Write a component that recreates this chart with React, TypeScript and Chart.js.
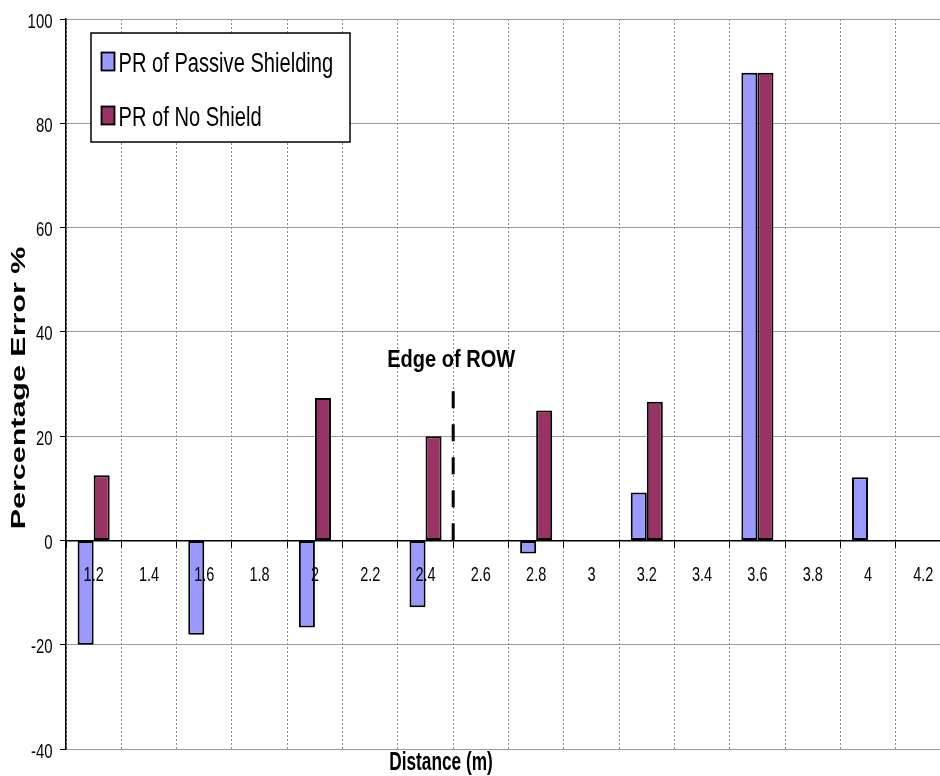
import React, { useEffect, useRef } from "react";
import { Chart, registerables } from "chart.js";

Chart.register(...registerables);

// ---- data ----
const categories = ["1.2", "1.4", "1.6", "1.8", "2", "2.2", "2.4", "2.6", "2.8", "3", "3.2", "3.4", "3.6", "3.8", "4", "4.2"];
const passiveShielding: (number | null)[] = [-20, null, -18.1, null, -16.7, null, -12.8, null, -2.5, null, 9.2, null, 89.7, null, 12.1, null];
const noShield: (number | null)[] = [12.5, null, null, null, 27.3, null, 20, null, 24.9, null, 26.6, null, 89.7, null, null, null];
const seriesLabels = ["PR of Passive Shielding", "PR of No Shield"];
const seriesColors = ["#9999FF", "#993366"];
const yMin = -40;
const yMax = 100;
const yStep = 20;
const xTitle = "Distance (m)";
const yTitle = "Percentage Error %";
const edgeLabel = "Edge of ROW";
const edgeAfterCategory = "2.4"; // edge line sits between 2.4 and 2.6
const edgeLineTopValue = 28.6;
const edgeLabelValue = 33.3;

const SANS = "'Liberation Sans', Arial, sans-serif";

function drawText(
  ctx: CanvasRenderingContext2D,
  text: string,
  x: number,
  y: number,
  size: number,
  bold: boolean,
  sx: number,
  align: CanvasTextAlign
) {
  ctx.save();
  ctx.translate(x, y);
  ctx.scale(sx, 1);
  ctx.font = `${bold ? "bold " : ""}${size}px ${SANS}`;
  ctx.fillStyle = "#000";
  ctx.textAlign = align;
  ctx.textBaseline = "alphabetic";
  ctx.fillText(text, 0, 0);
  ctx.restore();
}

const overlayPlugin = {
  id: "overlay",
  afterDatasetsDraw(chart: any) {
    const { ctx, chartArea, scales } = chart;
    const x = scales.x;
    const y = scales.y;
    const y0 = y.getPixelForValue(0);
    ctx.save();

    // x tick labels (drawn over the bars, just below the zero line)
    categories.forEach((c, i) => {
      drawText(ctx, c, x.getPixelForTick(i), y0 + 40.7, 21, false, 0.69, "center");
    });

    // y tick labels
    y.ticks.forEach((t: any) => {
      drawText(ctx, String(t.value), chartArea.left - 13.5, y.getPixelForValue(t.value) + 8.5, 21, false, 0.71, "right");
    });

    // Edge of ROW dashed line
    const i = categories.indexOf(edgeAfterCategory);
    const ex = (x.getPixelForValue(i) + x.getPixelForValue(i + 1)) / 2;
    ctx.beginPath();
    ctx.setLineDash([17, 16]);
    ctx.lineWidth = 3;
    ctx.strokeStyle = "#000";
    ctx.moveTo(ex, y.getPixelForValue(edgeLineTopValue));
    ctx.lineTo(ex, y0);
    ctx.stroke();
    ctx.setLineDash([]);

    drawText(ctx, edgeLabel, ex - 2, y.getPixelForValue(edgeLabelValue), 24, true, 0.835, "center");

    // Legend box
    const lx = chartArea.left + 25;
    const ly = chartArea.top + 14;
    const lw = 259;
    const lh = 109;
    ctx.fillStyle = "#fff";
    ctx.fillRect(lx, ly, lw, lh);
    ctx.lineWidth = 1.5;
    ctx.strokeStyle = "#000";
    ctx.strokeRect(lx, ly, lw, lh);
    chart.data.datasets.forEach((ds: any, k: number) => {
      const cy = ly + 28.5 + k * 54;
      ctx.fillStyle = ds.backgroundColor;
      ctx.fillRect(lx + 10.5, cy - 9, 13, 18);
      ctx.strokeStyle = "#000";
      ctx.lineWidth = 1.8;
      ctx.strokeRect(lx + 10.5, cy - 9, 13, 18);
      drawText(ctx, ds.label, lx + 27.5, cy + 10, 27, false, 0.745, "left");
    });

    // X title
    drawText(ctx, xTitle, chartArea.left + 375, chartArea.bottom + 21, 25, true, 0.69, "center");

    // Y title (stretched along its length)
    ctx.save();
    ctx.translate(19, (chartArea.top + chartArea.bottom) / 2 + 4);
    ctx.rotate(-Math.PI / 2);
    ctx.scale(1.45, 1);
    ctx.font = `bold 21px ${SANS}`;
    ctx.fillStyle = "#000";
    ctx.textAlign = "center";
    ctx.textBaseline = "middle";
    ctx.fillText(yTitle, 0, 0);
    ctx.restore();

    ctx.restore();
  },
};

export default function App() {
  const canvasRef = useRef<HTMLCanvasElement | null>(null);

  useEffect(() => {
    if (!canvasRef.current) return;
    const chart = new Chart(canvasRef.current, {
      type: "bar",
      data: {
        labels: categories,
        datasets: [
          {
            label: seriesLabels[0],
            data: passiveShielding,
            backgroundColor: seriesColors[0],
            borderColor: "#000",
            borderWidth: 2,
            borderSkipped: false,
            categoryPercentage: 0.58,
            barPercentage: 1,
          },
          {
            label: seriesLabels[1],
            data: noShield,
            backgroundColor: seriesColors[1],
            borderColor: "#000",
            borderWidth: 2,
            borderSkipped: false,
            categoryPercentage: 0.58,
            barPercentage: 1,
          },
        ],
      },
      options: {
        animation: false,
        responsive: false,
        devicePixelRatio: 1,
        layout: { padding: { left: 0, top: 19, right: 9, bottom: 27 } },
        plugins: {
          legend: { display: false },
          tooltip: { enabled: false },
          title: { display: false },
        },
        scales: {
          x: {
            position: { y: 0 } as any,
            grid: {
              offset: true,
              color: "#8a8a8a",
              lineWidth: 1,
              tickColor: "#000",
              tickLength: 6,
            },
            border: { display: true, color: "#000", width: 1.5, dash: [2, 2] },
            ticks: {
              color: "rgba(0,0,0,0)",
              font: { family: SANS, size: 15 },
              padding: 14,
              maxRotation: 0,
              autoSkip: false,
            },
          },
          y: {
            min: yMin,
            max: yMax,
            grid: {
              color: (c: any) => (c.tick && c.tick.value === 0 ? "#000" : "#999"),
              lineWidth: 1,
              tickColor: "#000",
              tickLength: 6,
            },
            border: { display: true, color: "#000", width: 1.5 },
            ticks: {
              stepSize: yStep,
              color: "rgba(0,0,0,0)",
              font: { family: SANS, size: 15 },
              padding: 7,
            },
            afterFit: (s: any) => {
              s.width = 66;
            },
          },
        },
      },
      plugins: [overlayPlugin],
    });
    let alive = true;
    if ((document as any).fonts && (document as any).fonts.ready) {
      (document as any).fonts.ready.then(() => {
        if (alive) chart.update();
      });
    }
    return () => {
      alive = false;
      chart.destroy();
    };
  }, []);

  return (
    <div style={{ position: "fixed", left: 0, top: 0, width: 940, height: 776, overflow: "hidden", background: "#fff" }}>
      <canvas ref={canvasRef} width={960} height={776} style={{ display: "block", width: 960, height: 776 }} />
    </div>
  );
}
